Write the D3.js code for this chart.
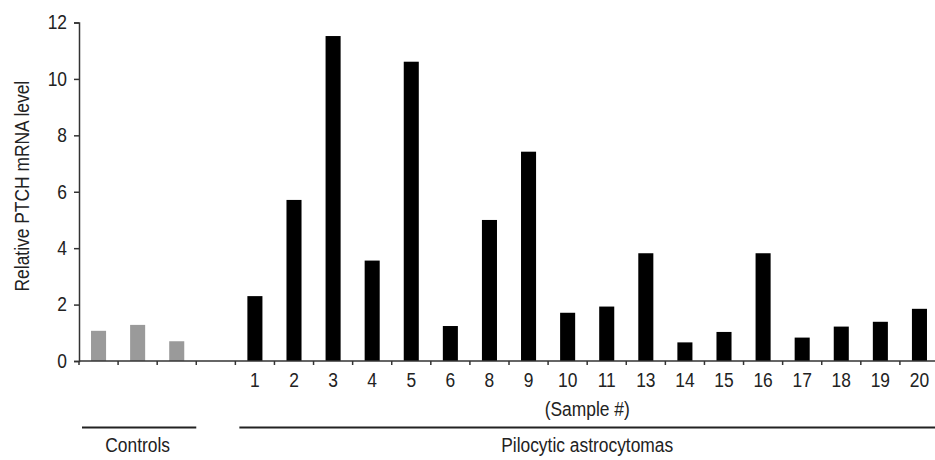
<!DOCTYPE html>
<html lang="en">
    <head>
        <meta charset="utf-8">
        <title>Relative PTCH mRNA level</title>
        <script type="text/javascript" src="https://cdnjs.cloudflare.com/ajax/libs/d3/7.8.5/d3.min.js"></script>
        <style>
            body { margin: 0; background: #fff; }
            svg text { font-family: "Liberation Sans", Arial, sans-serif; fill: #222; }
            .axis path, .axis line { stroke: #333; stroke-width: 1.5; }
        </style>
    </head>
    <body>
        <div id="chart"></div>
        <script type="text/javascript">
            // data
            var controlIds = ["C1", "C2", "C3"];
            var controlValues = [1.07, 1.28, 0.70];
            var sampleIds = ["1","2","3","4","5","6","8","9","10","11","13","14","15","16","17","18","19","20"];
            var sampleValues = [2.30, 5.71, 11.52, 3.56, 10.61, 1.24, 5.00, 7.42, 1.71, 1.93, 3.82, 0.66, 1.03, 3.82, 0.83, 1.22, 1.39, 1.85];
            var yTicks = [0, 2, 4, 6, 8, 10, 12];

            var width = 935;
            var height = 460;
            // the figure uses a condensed face, so squeeze the text sideways
            var squeeze = 0.87;

            var controls = controlIds.map(function(d, i){ return {id: d, value: controlValues[i], group: "control"}; });
            var samples = sampleIds.map(function(d, i){ return {id: d, value: sampleValues[i], group: "sample"}; });
            var dataset = controls.concat(samples);
            // one empty slot between controls and tumours
            var domain = controlIds.concat(["gap"], sampleIds);

            var xScale = d3.scaleBand()
                    .domain(domain)
                    .range([79, 939]);
            var yScale = d3.scaleLinear()
                    .domain([0, 12])
                    .range([361, 22.5]);

            var barWidth = xScale.bandwidth() * 0.385;

            var svg = d3.select("#chart")
                    .append("svg")
                    .attr("width", width)
                    .attr("height", height);

            // bars
            svg.selectAll("rect.bar")
                .data(dataset)
                .enter()
                .append("rect")
                .attr("class", "bar")
                .attr("x", function(d){ return xScale(d.id) + (xScale.bandwidth() - barWidth) / 2; })
                .attr("y", function(d){ return yScale(d.value); })
                .attr("width", barWidth)
                .attr("height", function(d){ return yScale(0) - yScale(d.value); })
                .attr("fill", function(d){ return d.group == "control" ? "#9a9a9a" : "#000"; });

            // y axis
            var yAxis = d3.axisLeft(yScale)
                    .tickValues(yTicks)
                    .tickSize(5)
                    .tickPadding(7)
                    .tickFormat(d3.format("d"));
            svg.append("g")
                .attr("class", "axis")
                .attr("transform", "translate(" + xScale.range()[0] + ",0)")
                .call(yAxis)
                .call(function(g){
                    g.selectAll("text")
                        .style("font-size", "20px")
                        .attr("fill", "#222")
                        .attr("x", -12 / squeeze)
                        .attr("transform", "scale(" + squeeze + ",1)");
                });

            // x axis: labels only for samples, ticks on band edges
            var xAxis = d3.axisBottom(xScale)
                    .tickSize(0)
                    .tickPadding(12)
                    .tickFormat(function(d){ return sampleIds.indexOf(d) >= 0 ? d : ""; });
            var gx = svg.append("g")
                .attr("class", "axis")
                .attr("transform", "translate(0," + yScale(0) + ")")
                .call(xAxis);
            gx.selectAll("text")
                .style("font-size", "20px")
                .attr("fill", "#222")
                .attr("transform", "scale(" + squeeze + ",1)");
            gx.select(".domain").attr("d", "M" + xScale.range()[0] + ",0H" + xScale.range()[1]);

            var edges = domain.map(function(d){ return xScale(d); }).concat([xScale.range()[1]]);
            gx.selectAll("line.edge")
                .data(edges)
                .enter()
                .append("line")
                .attr("class", "edge")
                .attr("x1", function(d){ return d; })
                .attr("x2", function(d){ return d; })
                .attr("y1", 0)
                .attr("y2", 4);

            // y axis title
            svg.append("text")
                .attr("transform", "translate(29," + yScale(6.2) + ") rotate(-90) scale(" + squeeze + ",1)")
                .attr("text-anchor", "middle")
                .style("font-size", "20px")
                .text("Relative PTCH mRNA level");

            // sample caption
            var sampleStart = xScale(sampleIds[0]);
            var sampleEnd = xScale.range()[1];
            svg.append("text")
                .attr("transform", "translate(" + ((sampleStart + sampleEnd) / 2) + ",416) scale(" + squeeze + ",1)")
                .attr("text-anchor", "middle")
                .style("font-size", "20px")
                .text("(Sample #)");

            // group brackets
            var groups = [
                {label: "Controls", x1: xScale(controlIds[0]) + 3, x2: xScale(controlIds[2]) + xScale.bandwidth(), tx: xScale(controlIds[1]) + xScale.bandwidth() / 2},
                {label: "Pilocytic astrocytomas", x1: sampleStart + 4, x2: sampleEnd, tx: (sampleStart + sampleEnd) / 2}
            ];
            svg.selectAll("line.group")
                .data(groups)
                .enter()
                .append("line")
                .attr("class", "group")
                .attr("x1", function(d){ return d.x1; })
                .attr("x2", function(d){ return d.x2; })
                .attr("y1", 427.5)
                .attr("y2", 427.5)
                .attr("stroke", "#222")
                .attr("stroke-width", 2.2);
            svg.selectAll("text.group")
                .data(groups)
                .enter()
                .append("text")
                .attr("class", "group")
                .attr("transform", function(d){ return "translate(" + d.tx + ",452) scale(" + squeeze + ",1)"; })
                .attr("text-anchor", "middle")
                .style("font-size", "20px")
                .text(function(d){ return d.label; });
        </script>
    </body>
</html>
